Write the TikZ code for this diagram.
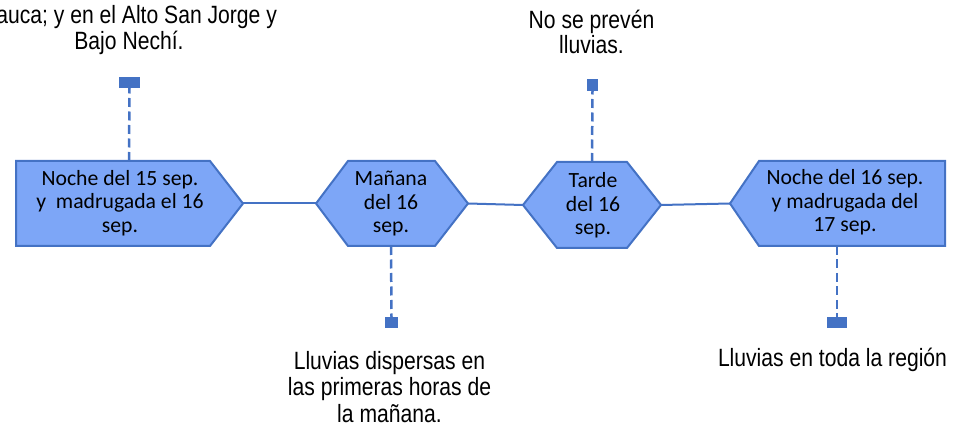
\documentclass[tikz,border=0pt]{standalone}
\usepackage{fontspec}
\setmainfont{Liberation Sans}
\newfontfamily\labfont[FakeStretch=0.845]{Liberation Sans}
\newfontfamily\calfont{Carlito}
\definecolor{edge}{RGB}{68,114,196}
\definecolor{boxfill}{RGB}{125,166,247}
\newcommand{\mlines}[1]{\begin{tabular}[t]{@{}c@{}}#1\end{tabular}}
\begin{document}
\begin{tikzpicture}[x=1pt,y=-1pt,
  shapebox/.style={draw=edge, line width=2pt, fill=boxfill, line join=miter},
  link/.style={draw=edge, line width=2pt},
  dashlink/.style={draw=edge, line width=2.5pt, dash pattern=on 9pt off 4.5pt},
  marker/.style={rectangle, fill=edge, draw=none, inner sep=0pt, outer sep=0pt},
  lab/.style={inner sep=0pt, outer sep=0pt, anchor=base, text=black},
  boxtext/.style={inner sep=0pt, outer sep=0pt, anchor=base, text=black,
    font=\calfont\fontsize{21.7}{23.3}\selectfont}
]
\useasboundingbox (0,0) rectangle (970,430);
\clip (0,0) rectangle (970,430);

% shapes
\filldraw[shapebox] (16,161) -- (210,161) -- (243,203.5) -- (210,246) -- (16,246) -- cycle;
\filldraw[shapebox] (316,203.5) -- (348,161) -- (435,161) -- (468,203.5) -- (435,246) -- (348,246) -- cycle;
\filldraw[shapebox] (523,205) -- (557,162) -- (627,162) -- (661,205) -- (627,248) -- (557,248) -- cycle;
\filldraw[shapebox] (730,203.5) -- (759,161) -- (945,161) -- (945,246) -- (759,246) -- cycle;

% connection points
\coordinate (n1r) at (243,203.5);
\coordinate (n1t) at (129,161);
\coordinate (n2l) at (316,203.5);
\coordinate (n2r) at (468,203.5);
\coordinate (n2b) at (391,246);
\coordinate (n3l) at (523,205);
\coordinate (n3r) at (661,205);
\coordinate (n3t) at (592,162);
\coordinate (n4l) at (730,203.5);
\coordinate (n4b) at (837,246);

% texts in shapes
\node[boxtext] (b1) at (120,185.7) {\mlines{Noche del 15 sep.\\y\ \ madrugada el 16\\sep.}};
\node[boxtext] (b2) at (391,186) {\mlines{Mañana\\del 16\\sep.}};
\node[boxtext] (b3) at (593,188) {\mlines{Tarde\\del 16\\sep.}};
\node[boxtext] (b4) at (845,185) {\mlines{Noche del 16 sep.\\y madrugada del\\17 sep.}};

% markers
\node[marker, minimum width=21pt, minimum height=11pt] (m1) at (129.5,82.5) {};
\node[marker, minimum width=13pt, minimum height=11pt] (m2) at (391.5,322.5) {};
\node[marker, minimum width=11pt, minimum height=12pt] (m3) at (592.5,85) {};
\node[marker, minimum width=20pt, minimum height=11pt] (m4) at (837,322.5) {};

% connectors
\draw[link] (n1r) -- (n2l);
\draw[link] (n2r) -- (n3l);
\draw[link] (n3r) -- (n4l);
\draw[dashlink] (n1t) -- (m1.south);
\draw[dashlink] (n2b) -- (m2.north);
\draw[dashlink] (n3t) -- (m3.south);
\draw[dashlink] (n4b) -- (m4.north);

% outer labels
\node[lab, font=\labfont\fontsize{25}{24}\selectfont] (l1) at (129,24)
  {\mlines{\hphantom{C}auca; y en el Alto San Jorge y\\Bajo Nechí.}};
\node[lab, font=\labfont\fontsize{25}{25}\selectfont] (l3) at (591.5,28.3)
  {\mlines{No se prevén\\lluvias.}};
\node[lab, font=\labfont\fontsize{25}{26.5}\selectfont] (l2) at (389.5,369.3)
  {\mlines{Lluvias dispersas en\\las primeras horas de\\la mañana.}};
\node[lab, font=\labfont\fontsize{25}{26.5}\selectfont] (l4) at (832.5,366.5)
  {\mlines{Lluvias en toda la región}};
\end{tikzpicture}
\end{document}
